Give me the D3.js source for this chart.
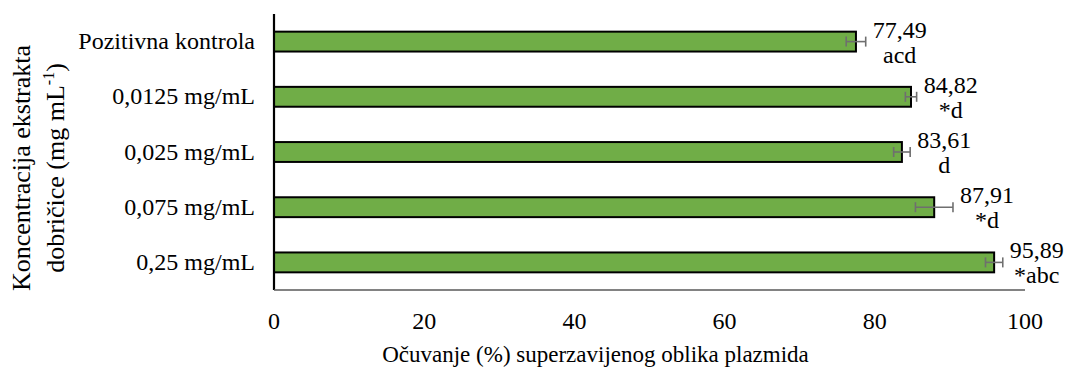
<!DOCTYPE html>
<html><head><meta charset="utf-8"><script src="https://cdn.jsdelivr.net/npm/d3@7"></script></head>
<body style="margin:0">
<svg id="chart" width="1067" height="372"></svg>
<script>
// Concentrations of the extract (top to bottom)
const categories = ["Pozitivna kontrola", "0,0125 mg/mL", "0,025 mg/mL", "0,075 mg/mL", "0,25 mg/mL"];
// Preservation of supercoiled plasmid form, %
const values = [77.49, 84.82, 83.61, 87.91, 95.89];
// Standard deviations
const errors = [1.3, 0.75, 1.1, 2.5, 1.15];
// Significance letters
const letters = ["acd", "*d", "d", "*d", "*abc"];
const xTicks = [0, 20, 40, 60, 80, 100];

const FONT = "'Liberation Serif', 'Times New Roman', Tinos, serif";
const FS = "24px";

const svg = d3.select("#chart");
const margin = { left: 274, right: 42, top: 14, bottom: 82 };
const W = 1067, H = 372;

const x = d3.scaleLinear().domain([0, 100]).range([margin.left, W - margin.right]);
const y = d3.scaleBand().domain(categories).range([margin.top, H - margin.bottom]).paddingInner(0.64).paddingOuter(0.32);

const fmt = v => v.toFixed(2).replace(".", ",");

// bars
svg.append("g").selectAll("rect")
  .data(values)
  .join("rect")
  .attr("x", x(0))
  .attr("y", (d, i) => y(categories[i]))
  .attr("width", d => x(d) - x(0))
  .attr("height", y.bandwidth())
  .attr("fill", "#70AD47")
  .attr("stroke", "#000")
  .attr("stroke-width", 2);

// error bars
const eg = svg.append("g").attr("stroke", "#6f6f6f").attr("stroke-width", 1.6).attr("fill", "none");
values.forEach((v, i) => {
  const cy = y(categories[i]) + y.bandwidth() / 2;
  const x0 = x(v - errors[i]), x1 = x(v + errors[i]);
  eg.append("line").attr("x1", x0).attr("x2", x1).attr("y1", cy).attr("y2", cy);
  eg.append("line").attr("x1", x0).attr("x2", x0).attr("y1", cy - 5).attr("y2", cy + 5);
  eg.append("line").attr("x1", x1).attr("x2", x1).attr("y1", cy - 5).attr("y2", cy + 5);
});

// value + letter labels
values.forEach((v, i) => {
  const cy = y(categories[i]) + y.bandwidth() / 2;
  const cx = x(v + errors[i]) + 34;
  svg.append("text").attr("x", cx).attr("y", cy - 4)
    .attr("text-anchor", "middle").style("font-size", FS)
    .text(fmt(v));
  svg.append("text").attr("x", cx).attr("y", cy + 21)
    .attr("text-anchor", "middle").style("font-size", FS)
    .text(letters[i]);
});

// y axis line and category labels
svg.append("line")
  .attr("x1", x(0)).attr("x2", x(0))
  .attr("y1", margin.top).attr("y2", H - margin.bottom)
  .attr("stroke", "#000").attr("stroke-width", 2.2);
categories.forEach(c => {
  svg.append("text")
    .attr("x", x(0) - 19)
    .attr("y", y(c) + y.bandwidth() / 2)
    .attr("dy", "0.32em")
    .attr("text-anchor", "end")
    .style("font-size", FS)
    .text(c);
});

// x axis line and tick labels
svg.append("line")
  .attr("x1", x(0)).attr("x2", x(100))
  .attr("y1", H - margin.bottom).attr("y2", H - margin.bottom)
  .attr("stroke", "#595959").attr("stroke-width", 1.5);
xTicks.forEach(t => {
  svg.append("text")
    .attr("x", x(t))
    .attr("y", H - margin.bottom + 39)
    .attr("text-anchor", "middle")
    .style("font-size", FS)
    .text(t);
});

// axis titles
svg.append("text")
  .attr("x", (x(0) + x(100)) / 2 - 54)
  .attr("y", 362)
  .attr("text-anchor", "middle")
  .style("font-size", "23px")
  .text("Očuvanje (%) superzavijenog oblika plazmida");

const yt = svg.append("text")
  .attr("transform", "translate(0,168) rotate(-90)")
  .attr("text-anchor", "middle")
  .style("font-size", "26px");
yt.append("tspan").attr("x", 0).attr("y", 30).text("Koncentracija ekstrakta");
const l2 = yt.append("tspan").attr("x", 0).attr("y", 64);
l2.append("tspan").text("dobričice (mg mL");
l2.append("tspan").style("font-size", "16px").attr("dy", -10).text("-1");
l2.append("tspan").attr("dy", 10).text(")");

// apply the serif face to every label; re-apply once the face is resolved
svg.selectAll("text").style("font-family", FONT);
if (document.fonts && document.fonts.load) {
  document.fonts.load("24px 'Liberation Serif'").then(() => {
    svg.selectAll("text").style("font-family", "'Liberation Serif'");
  });
}
</script>
</body>
</html>
